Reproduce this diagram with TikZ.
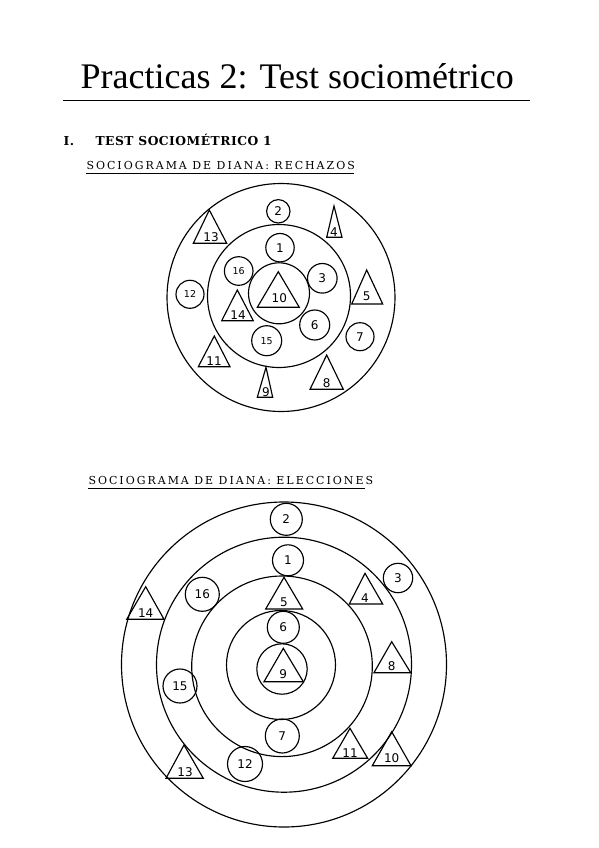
\documentclass[tikz,border=0pt]{standalone}
\usepackage{fontspec}
\setmainfont{Liberation Serif}
\newfontfamily\numfont{DejaVu Sans}
\newfontfamily\headfont[LetterSpace=4]{DejaVu Serif}
\newfontfamily\subfont[LetterSpace=18]{DejaVu Serif}
\begin{document}
\begin{tikzpicture}[x=1pt,y=-1pt,line width=1.15pt,
  pc/.style={draw,circle,inner sep=0pt,line width=1.15pt,font=\numfont\fontsize{12}{12}\selectfont},
  pcs/.style={pc,font=\numfont\fontsize{9.5}{9.5}\selectfont},
  tl/.style={inner sep=0pt,font=\numfont\fontsize{12}{12}\selectfont},
  ring/.style={draw,line width=1.15pt},
  txt/.style={inner sep=0pt,anchor=base west}]
\useasboundingbox (0,0) rectangle (599,848);
% title
\node[txt,font=\fontsize{36}{36}\selectfont] (title) at (80,89) {Practicas 2: Test sociom\'etrico};
\draw[line width=0.6pt] (63,100) -- (530,100);
\node[txt,font=\headfont\bfseries\fontsize{12.3}{12.3}\selectfont] (sec) at (63,145) {I.};
\node[txt,font=\headfont\bfseries\fontsize{12.3}{12.3}\selectfont] (sectitle) at (95,145) {TEST SOCIOM\'ETRICO 1};
\node[txt,font=\subfont\fontsize{11}{11}\selectfont] (sub1) at (86,169.5) {SOCIOGRAMA DE DIANA: RECHAZOS};
\draw[line width=0.6pt] (86,173) -- (354,173);
\node[txt,font=\subfont\fontsize{11}{11}\selectfont] (sub2) at (88,484) {SOCIOGRAMA DE DIANA: ELECCIONES};
\draw[line width=0.6pt] (88,488) -- (365,488);

% ===== diagram 1: rechazos =====
\draw[ring] (281,297.5) circle (114);
\draw[ring] (279,296) circle (71.5);
\draw[ring] (279,293.3) circle (30.5);
\node[pc,minimum size=28.4pt] (a1) at (280,247.7) {1};
\node[pc,minimum size=23.4pt] (a2) at (278.3,211.3) {2};
\node[pc,minimum size=29.6pt] (a3) at (322.3,278.3) {3};
\node[pcs,minimum size=28.6pt] (a16) at (238.7,271) {16};
\node[pcs,minimum size=28pt] (a12) at (190,294.3) {12};
\node[pc,minimum size=30pt] (a6) at (314.7,325) {6};
\node[pcs,minimum size=30pt] (a15) at (266.7,340.7) {15};
\node[pc,minimum size=28pt] (a7) at (360,336.7) {7};
% triangles
\draw (278.3,271.7) -- (257.3,307.3) -- (299.3,307.3) -- cycle;
\node[tl] (a10) at (279.3,298.5) {10};
\draw (209.3,210) -- (193.3,243.3) -- (226.7,243.3) -- cycle;
\node[tl] (a13) at (211,236.7) {13};
\draw (334,206) -- (326.7,237.3) -- (342,237.3) -- cycle;
\node[tl] (a4) at (334,231.7) {4};
\draw (366.7,270) -- (351.7,304) -- (382.7,304) -- cycle;
\node[tl] (a5) at (366.7,296.7) {5};
\draw (237.3,290) -- (221.7,320.7) -- (253.3,320.7) -- cycle;
\node[tl] (a14) at (238,315) {14};
\draw (214.3,336) -- (198.3,366.7) -- (230,366.7) -- cycle;
\node[tl] (a11) at (214,361) {11};
\draw (266,367.3) -- (257.3,397.3) -- (272.7,397.3) -- cycle;
\node[tl] (a9) at (266,391.7) {9};
\draw (326.7,355) -- (310,389.3) -- (343.3,389.3) -- cycle;
\node[tl] (a8) at (326.7,382.7) {8};

% ===== diagram 2: elecciones =====
\draw[ring] (284,664.5) circle (162.5);
\draw[ring] (284,664.7) circle (127.5);
\draw[ring] (282,666.3) circle (90.3);
\draw[ring] (281,665) circle (54.5);
\draw[ring] (282,669) circle (25.2);
\node[pc,minimum size=32pt] (b2) at (286.3,519.3) {2};
\node[pc,minimum size=31pt] (b1) at (288,560.3) {1};
\node[pc,minimum size=29.4pt] (b3) at (398,578) {3};
\node[pc,minimum size=34pt] (b16) at (202.3,594.3) {16};
\node[pc,minimum size=32pt] (b6) at (283.3,627.3) {6};
\node[pc,minimum size=34pt] (b15) at (180,686) {15};
\node[pc,minimum size=34pt] (b7) at (282.3,736) {7};
\node[pc,minimum size=35pt] (b12) at (245,764) {12};
% triangles
\draw (284,577.3) -- (265.7,609) -- (302.7,609) -- cycle;
\node[tl] (b5) at (284,602.7) {5};
\draw (365,573.3) -- (349.3,604) -- (382.7,604) -- cycle;
\node[tl] (b4) at (365,598.3) {4};
\draw (145.7,586.7) -- (126.7,619.3) -- (164,619.3) -- cycle;
\node[tl] (b14) at (145.7,613.3) {14};
\draw (391.7,641.7) -- (374,672.7) -- (410.7,672.7) -- cycle;
\node[tl] (b8) at (391.7,666) {8};
\draw (283.3,648.3) -- (264,681.7) -- (303.3,681.7) -- cycle;
\node[tl] (b9) at (283.3,674.3) {9};
\draw (350,728.3) -- (332.7,758.3) -- (367.7,758.3) -- cycle;
\node[tl] (b11) at (350,753.3) {11};
\draw (391.7,731.7) -- (372.3,765.7) -- (411,765.7) -- cycle;
\node[tl] (b10) at (391.7,758.3) {10};
\draw (184,745) -- (166,778.3) -- (203.3,778.3) -- cycle;
\node[tl] (b13) at (185,771.7) {13};
\end{tikzpicture}
\end{document}
